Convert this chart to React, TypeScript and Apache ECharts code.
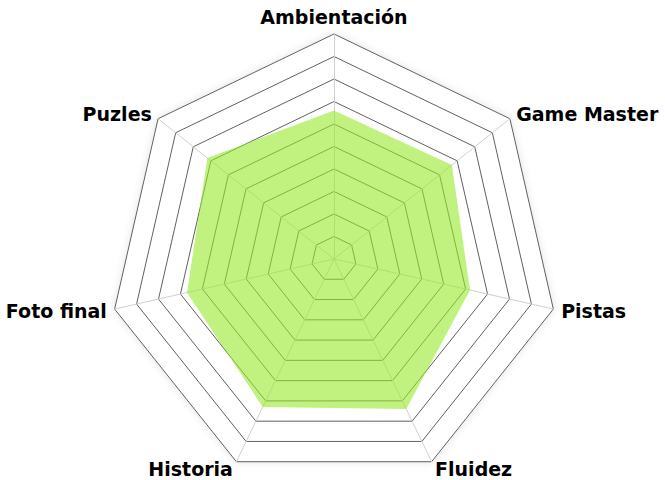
import React, { useEffect, useRef } from "react";
import * as echarts from "echarts";

// Listed counterclockwise from the top, as ECharts places radar indicators
const indicatorNames = ["Ambientación", "Puzles", "Foto final", "Historia", "Fluidez", "Pistas", "Game Master"];
const scores = [6.6, 7.2, 6.7, 7.3, 7.4, 6.2, 6.7];
const maxScore = 10;

export default function App() {
  const ref = useRef<HTMLDivElement>(null);
  useEffect(() => {
    if (!ref.current) return;
    const chart = echarts.init(ref.current, undefined, { renderer: "svg" });
    chart.setOption({
      animation: false,
      backgroundColor: "#ffffff",
      radar: {
        center: [334, 259],
        radius: 225,
        startAngle: 90,
        shape: "polygon",
        splitNumber: 10,
        nameGap: 8,
        axisName: {
          color: "#000000",
          fontFamily: "DejaVu Sans",
          fontWeight: "bold",
          fontSize: 19,
        },
        indicator: indicatorNames.map((name) => ({ name, min: 0, max: maxScore })),
        axisLine: { lineStyle: { color: "#d0d0d0", width: 1 } },
        splitLine: { lineStyle: { color: "#606060", width: 1 } },
        splitArea: {
          show: true,
          areaStyle: {
            color: ["#ffffff"],
            shadowColor: "rgba(0,0,0,0.12)",
            shadowBlur: 8,
          },
        },
        axisTick: { show: false },
        axisLabel: { show: false },
      },
      series: [
        {
          type: "radar",
          symbol: "none",
          lineStyle: { width: 0, opacity: 0 },
          areaStyle: { color: "rgba(152,232,40,0.6)", opacity: 1 },
          data: [{ value: scores, name: "Puntuación" }],
        },
      ],
    });
    return () => chart.dispose();
  }, []);
  return <div ref={ref} style={{ position: "fixed", left: 0, top: 0, width: 665, height: 480 }} />;
}
